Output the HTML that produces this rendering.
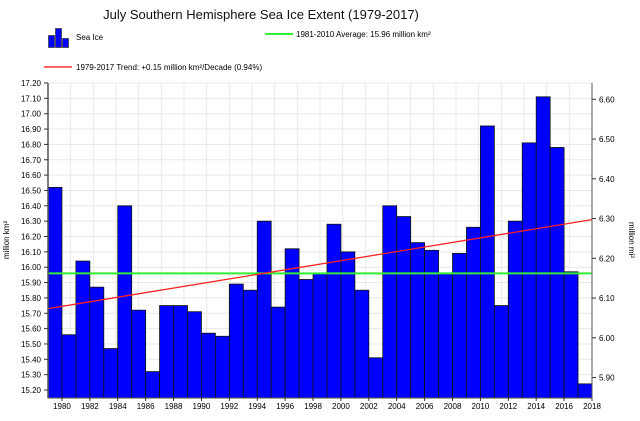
<!DOCTYPE html>
<html><head><meta charset="utf-8"><style>
body{margin:0;background:#fff;width:640px;height:416px;overflow:hidden;font-family:"Liberation Sans",sans-serif}
</style></head><body>
<svg id="chart" width="640" height="416" xmlns="http://www.w3.org/2000/svg">
<text x="261" y="19" font-size="13" text-anchor="middle" fill="#111">July Southern Hemisphere Sea Ice Extent (1979-2017)</text>
<g>
<g stroke="#333" stroke-width="0.7" fill="#0000ff">
<rect x="48.5" y="35.5" width="6" height="12"/><rect x="55.5" y="28.5" width="6" height="19"/><rect x="62.5" y="38.5" width="6" height="9"/></g>
<text x="76" y="40" font-size="8">Sea Ice</text>
<line x1="265" y1="34" x2="293" y2="34" stroke="#33ee33" stroke-width="2"/>
<text x="296" y="37" font-size="8">1981-2010 Average: 15.96 million km²</text>
<line x1="44" y1="67" x2="72" y2="67" stroke="#ff3333" stroke-width="1.5"/>
<text x="76" y="70" font-size="8">1979-2017 Trend: +0.15 million km²/Decade (0.94%)</text>
</g>
<g id="grid"></g><g id="bars"></g><g id="lines"></g><g id="axes"></g>
<text transform="translate(9,240) rotate(-90)" font-size="8" text-anchor="middle">million km²</text>
<text transform="translate(629,240) rotate(90)" font-size="8" text-anchor="middle">million mi²</text>
</svg>
<script>
const years=[1979,1980,1981,1982,1983,1984,1985,1986,1987,1988,1989,1990,1991,1992,1993,1994,1995,1996,1997,1998,1999,2000,2001,2002,2003,2004,2005,2006,2007,2008,2009,2010,2011,2012,2013,2014,2015,2016,2017];
const extent=[16.52,15.56,16.04,15.87,15.47,16.40,15.72,15.32,15.75,15.75,15.71,15.57,15.55,15.89,15.85,16.30,15.74,16.12,15.92,15.96,16.28,16.10,15.85,15.41,16.40,16.33,16.16,16.11,15.96,16.09,16.26,16.92,15.75,16.30,16.81,17.11,16.78,15.97,15.24];
const average=15.96;
const trendStart=15.73, trendEnd=16.31;
const leftTicks=[15.2,15.3,15.4,15.5,15.6,15.7,15.8,15.9,16.0,16.1,16.2,16.3,16.4,16.5,16.6,16.7,16.8,16.9,17.0,17.1,17.2];
const rightTicks=[5.9,6.0,6.1,6.2,6.3,6.4,6.5,6.6];
const xTicks=[1980,1982,1984,1986,1988,1990,1992,1994,1996,1998,2000,2002,2004,2006,2008,2010,2012,2014,2016,2018];
const NS='http://www.w3.org/2000/svg';
const L=48,R=592,T=83,B=398;
const x=v=>L+(v-1979)*(R-L)/39;
const y=v=>390-(v-15.2)*153.5;
const y2=v=>y(v/0.386102);
function mk(p,t,a){const e=document.createElementNS(NS,t);for(const k in a)e.setAttribute(k,a[k]);document.getElementById(p).appendChild(e);return e;}
for(const t of leftTicks){const e=mk('grid','line',{x1:L,x2:R,y1:y(t),y2:y(t),stroke:'#e8e8e8'});

}
for(let i=1;i<24;i++){const xx=L+i*(R-L)/24;const e=mk('grid','line',{x1:xx,x2:xx,y1:T,y2:B,stroke:'#e8e8e8'});

}
years.forEach((yr,i)=>{const top=y(extent[i]);const b=mk('bars','rect',{x:x(yr),y:top,width:x(yr+1)-x(yr),height:B-top,fill:'#0000ff',stroke:'#111','stroke-width':0.8});

});
const av=mk('lines','line',{x1:L,x2:R,y1:y(average),y2:y(average),stroke:'#33ee33','stroke-width':2});


const tr=mk('lines','line',{x1:L,x2:R,y1:y(trendStart),y2:y(trendEnd),stroke:'#ff2222','stroke-width':1.3});


mk('axes','line',{x1:L,x2:L,y1:T,y2:B,stroke:'#555','stroke-width':1.5});
mk('axes','line',{x1:R,x2:R,y1:T,y2:B,stroke:'#555','stroke-width':1});
mk('axes','line',{x1:L,x2:R,y1:B,y2:B,stroke:'#555','stroke-width':1});
for(const t of leftTicks){mk('axes','line',{x1:L-4,x2:L,y1:y(t),y2:y(t),stroke:'#333'});
const e=mk('axes','text',{x:L-7,y:y(t)+3,'font-size':8,'text-anchor':'end'});e.textContent=t.toFixed(2);

}
for(const t of rightTicks){mk('axes','line',{x1:R,x2:R+4,y1:y2(t),y2:y2(t),stroke:'#333'});
const e=mk('axes','text',{x:R+7,y:y2(t)+3,'font-size':8});e.textContent=t.toFixed(2);

}
for(const t of xTicks){mk('axes','line',{x1:x(t),x2:x(t),y1:B,y2:B+3,stroke:'#333'});
const e=mk('axes','text',{x:x(t),y:409,'font-size':8,'text-anchor':'middle'});e.textContent=t;

}
</script>
</body></html>
